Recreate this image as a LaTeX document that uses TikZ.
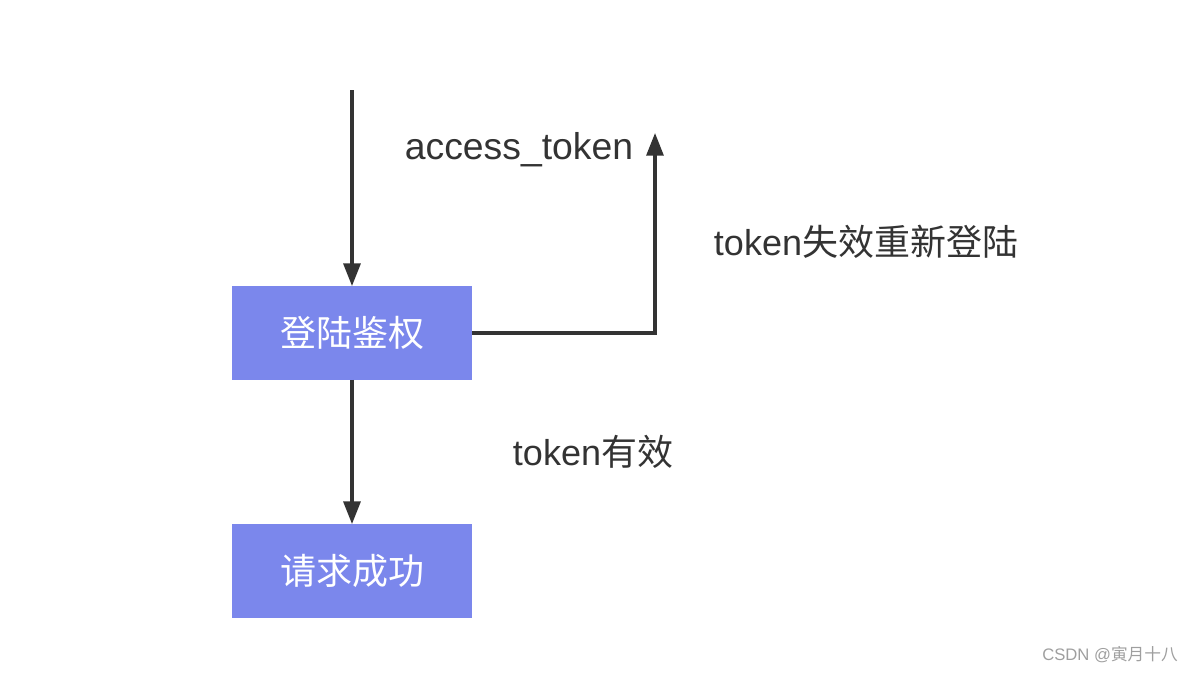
\documentclass[tikz,border=0pt]{standalone}
\usepackage{fontspec}
\setmainfont{Liberation Sans}
\newfontfamily\cjk{Noto Sans CJK SC}
\usepackage{xcolor}
\usepackage{tikz}
\usetikzlibrary{arrows.meta}
\usetikzlibrary{positioning}

\definecolor{boxblue}{RGB}{123,135,236}
\definecolor{inkgray}{RGB}{51,51,51}

\tikzset{
	flowbox/.style={fill=boxblue,draw=none,minimum width=180pt,minimum height=70pt,
		text=white,font=\fontsize{27}{32}\selectfont\cjk,inner sep=0pt},
	flowline/.style={draw=inkgray,line width=2.3pt,-{Triangle[length=17pt,width=12.75pt]}},
	flowlabel/.style={text=inkgray,font=\fontsize{27}{32}\selectfont,inner sep=0pt}
}

\begin{document}
\begin{tikzpicture}[x=0.75pt,y=-0.75pt]
		\useasboundingbox (0,0) rectangle (1194,672);
		% boxes
		\node[flowbox] (auth) at (352,333) {登陆鉴权};
		\node[flowbox] (ok) at (352,571) {请求成功};
		% free ends
		\coordinate (start) at (352,90);
		\coordinate (turn) at (655,333);
		\coordinate (relogin) at (655,133);
		% connectors
		\draw[flowline] (start) -- (auth.north);
		\draw[flowline] (auth.east) -- (turn) -- (relogin);
		\draw[flowline] (auth.south) -- (ok.north);
		% labels
		\node[flowlabel,font=\fontsize{28}{32}\selectfont] (lbltoken) at (519,150) {access\_token};
		\node[flowlabel] (lblrelogin) at (866,242) {token{\cjk 失效重新登陆}};
		\node[flowlabel] (lblvalid) at (593,452) {token{\cjk 有效}};
		\node[text=gray!75,font=\fontsize{12.5}{14}\selectfont,inner sep=0pt] (mark) at (1110,655) {CSDN @{\cjk 寅月十八}};
	\end{tikzpicture}
\end{document}
